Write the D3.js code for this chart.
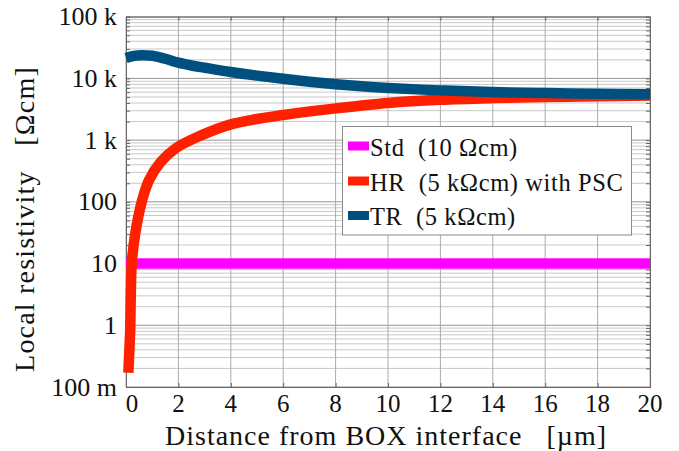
<!DOCTYPE html>
<html>
<head>
<meta charset="utf-8">
<script src="https://cdn.jsdelivr.net/npm/d3@7"></script>
<style>
  body { margin: 0; background: #fff; }
  text { font-family: "Liberation Serif", "Times New Roman", "DejaVu Serif", serif; fill: #111; white-space: pre; }
</style>
</head>
<body>
<svg id="chart" width="679" height="451"></svg>
<script>
// Axis ticks
const xTicks = [0, 2, 4, 6, 8, 10, 12, 14, 16, 18, 20];
const yTicks = [0.1, 1, 10, 100, 1e3, 1e4, 1e5];
const yTickLabels = ["100 m", "1", "10", "100", "1 k", "10 k", "100 k"];

// Std wafer: flat 10 Ωcm
const stdX = [0, 20];
const stdV = [10, 10];

// HR wafer with PSC
const hrX = [0.09, 0.127, 0.16, 0.18, 0.22, 0.355, 0.6, 0.88, 1.32, 1.9, 2.82, 4, 5, 6, 7, 8, 10, 12, 14, 16, 18, 20];
const hrV = [0.17, 0.39, 0.84, 2.56, 10, 31, 100, 225, 440, 740, 1170, 1800, 2200, 2550, 2920, 3270, 4000, 4500, 4800, 5000, 5150, 5300];

// TR wafer
const trX = [0, 0.3, 0.6, 1, 1.5, 2, 2.5, 3, 4, 5, 6, 7, 8, 9, 10, 12, 14, 16, 18, 20];
const trV = [21500, 23200, 23800, 23300, 20800, 18000, 16200, 14900, 12700, 11100, 9850, 8850, 8050, 7450, 7000, 6400, 6000, 5800, 5650, 5550];

const seriesNames = ["Std  (10 \u03A9cm)", "HR  (5 k\u03A9cm) with PSC", "TR  (5 k\u03A9cm)"];
const seriesColors = ["#ff00ff", "#ff2000", "#00507f"];

const svg = d3.select("#chart");
const plotLeft = 126, plotRight = 650, plotTop = 16.7, plotBottom = 387;

const x = d3.scaleLinear().domain([0, 20]).range([plotLeft, plotRight]);
const y = d3.scaleLog().domain([0.1, 1e5]).range([plotBottom, plotTop]);

// minor decade values
const minor = [];
for (let e = -1; e < 5; e++) for (let k = 2; k <= 9; k++) minor.push(k * Math.pow(10, e));

const grid = svg.append("g");
grid.append("g").selectAll("line").data(minor).join("line")
  .attr("x1", plotLeft).attr("x2", plotRight)
  .attr("y1", d => y(d)).attr("y2", d => y(d))
  .attr("stroke", "#c8c8c8").attr("stroke-width", 1);
grid.append("g").selectAll("line").data(yTicks).join("line")
  .attr("x1", plotLeft).attr("x2", plotRight)
  .attr("y1", d => y(d)).attr("y2", d => y(d))
  .attr("stroke", "#959595").attr("stroke-width", 1);
grid.append("g").selectAll("line").data(xTicks).join("line")
  .attr("x1", d => x(d)).attr("x2", d => x(d))
  .attr("y1", plotTop).attr("y2", plotBottom)
  .attr("stroke", "#aaaaaa").attr("stroke-width", 1);

// inward tick marks on all four sides
const allY = minor.concat(yTicks);
const axL = d3.axisLeft(y).tickValues(allY).tickSize(-4).tickFormat("");
const axR = d3.axisRight(y).tickValues(allY).tickSize(-4).tickFormat("");
const axB = d3.axisBottom(x).tickValues(xTicks).tickSize(-4).tickFormat("");
const axT = d3.axisTop(x).tickValues(xTicks).tickSize(-4).tickFormat("");
[[axL, `translate(${plotLeft},0)`], [axR, `translate(${plotRight},0)`],
 [axB, `translate(0,${plotBottom})`], [axT, `translate(0,${plotTop})`]]
  .forEach(([ax, tr]) => {
    const g = svg.append("g").attr("transform", tr).call(ax);
    g.select(".domain").attr("stroke", "#666");
    g.selectAll(".tick line").attr("stroke", "#666");
  });

// series
const line = d3.line().x(d => x(d[0])).y(d => y(d[1])).curve(d3.curveCatmullRom.alpha(0.5));
const series = [
  d3.zip(stdX, stdV),
  d3.zip(hrX, hrV),
  d3.zip(trX, trV)
];
series.forEach((s, i) => {
  svg.append("path").datum(s)
    .attr("d", line)
    .attr("fill", "none")
    .attr("stroke", seriesColors[i])
    .attr("stroke-width", 10.5)
    .attr("stroke-linecap", "butt")
    .attr("stroke-linejoin", "round");
});

// tick labels
svg.append("g").selectAll("text").data(yTicks).join("text")
  .attr("x", plotLeft - 9).attr("y", d => y(d))
  .attr("text-anchor", "end").attr("dominant-baseline", "central")
  .attr("font-size", 26)
  .text((d, i) => yTickLabels[i]);
svg.append("g").selectAll("text").data(xTicks).join("text")
  .attr("x", (d, i) => x(d) + (i === 0 ? 6 : 0)).attr("y", 403)
  .attr("text-anchor", "middle").attr("dominant-baseline", "central")
  .attr("font-size", 25)
  .text(d => d);

// axis titles
svg.append("text")
  .attr("x", 386).attr("y", 445)
  .attr("text-anchor", "middle")
  .attr("font-size", 28).attr("letter-spacing", 1)
  .text("Distance from BOX interface   [\u00B5m]");
svg.append("text")
  .attr("transform", "translate(34,219) rotate(-90)")
  .attr("text-anchor", "middle")
  .attr("font-size", 28).attr("letter-spacing", 1.2)
  .text("Local resistivity   [\u03A9cm]");

// legend
const lg = svg.append("g");
lg.append("rect").attr("x", 342.5).attr("y", 126.5).attr("width", 289).attr("height", 108.5)
  .attr("fill", "#fff").attr("stroke", "#8a8a8a").attr("stroke-width", 1);
const rowY = [146, 181, 215.5];
seriesNames.forEach((n, i) => {
  lg.append("rect").attr("x", 348).attr("y", rowY[i] - 4.5).attr("width", 21).attr("height", 9)
    .attr("fill", seriesColors[i]);
  lg.append("text").attr("x", 370).attr("y", rowY[i] + 9.5)
    .attr("font-size", 24.5).attr("letter-spacing", 0.6)
    .text(n);
});
</script>
</body>
</html>
